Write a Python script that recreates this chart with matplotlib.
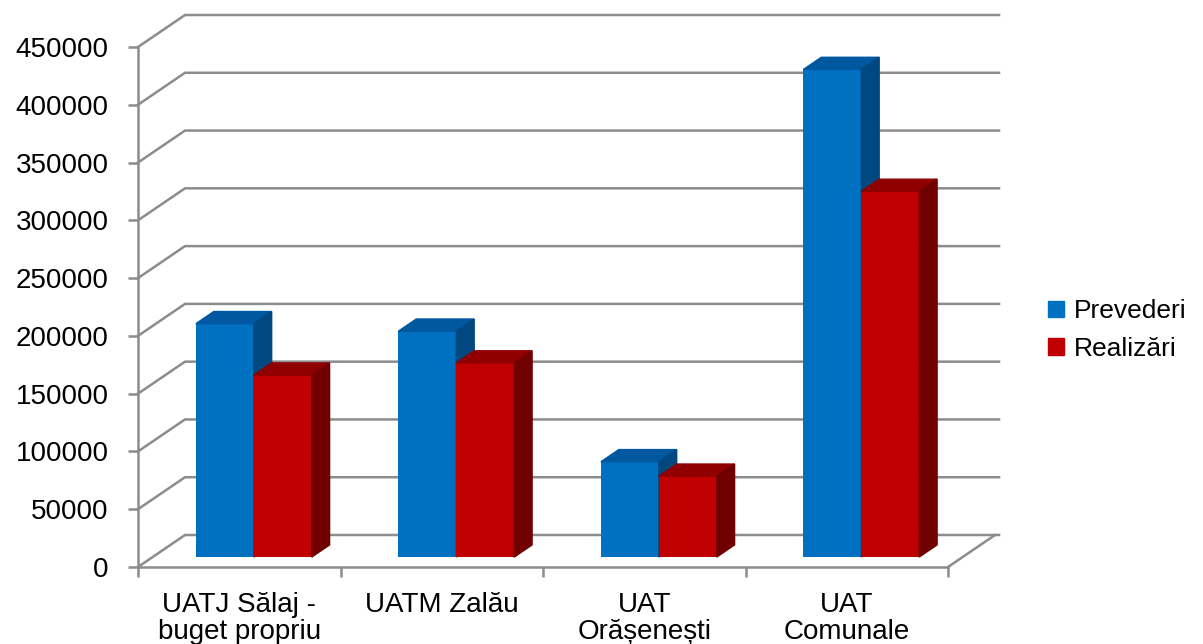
import numpy as np
import matplotlib
matplotlib.use("Agg")
import matplotlib.pyplot as plt
from matplotlib.patches import Polygon, Patch

plt.rcParams['font.family'] = ['Liberation Sans', 'DejaVu Sans']

categories = ["UATJ Sălaj -\nbuget propriu", "UATM Zalău", "UAT\nOrășenești", "UAT\nComunale"]
prevederi = [202000, 195500, 82500, 422000]
realizari = [157500, 168000, 70000, 316500]
yticks = list(range(0, 450001, 50000))

W, H = 1203, 644
fig = plt.figure(figsize=(W / 100, H / 100), dpi=100)
ax = fig.add_axes([138 / W, 77 / H, 810 / W, 520 / H])
ax.set_xlim(-0.5, 3.5)
ax.set_ylim(0, 450000)

# oblique depth of the 3d box (in data units)
DX = 47 / 810 * 4
DY = 32 / 520 * 450000
f0, f1 = 0.31, 0.69  # bars sit in the middle of the floor depth
grid_c = "#8c8c8c"

for v in yticks:
    ax.plot([-0.5, -0.5 + DX, 3.5 + DX + 0.02], [v, v + DY, v + DY],
            color=grid_c, lw=1.8, clip_on=False, zorder=1)
ax.plot([3.5, 3.5 + DX], [0, DY], color=grid_c, lw=1.8, clip_on=False, zorder=1)

bw = 0.286
series = [(prevederi, -bw, "#0070C0", "#0058A0", "#00487F"),
          (realizari, 0.0, "#C00000", "#900000", "#700000")]
x = np.arange(len(categories))
for i in range(len(categories)):
    for vals, off, cf, ct, cs in series:
        xl = x[i] + off + f0 * DX
        xr = xl + bw
        b = f0 * DY
        t = vals[i] + b
        d = f1 - f0
        ax.bar(xl, vals[i], width=bw, bottom=b, align='edge', color=cf,
               clip_on=False, zorder=3)
        ax.add_patch(Polygon([(xl, t), (xr, t), (xr + d * DX, t + d * DY), (xl + d * DX, t + d * DY)],
                             closed=True, color=ct, clip_on=False, zorder=3))
        ax.add_patch(Polygon([(xr, b), (xr, t), (xr + d * DX, t + d * DY), (xr + d * DX, b + d * DY)],
                             closed=True, color=cs, clip_on=False, zorder=3))

for s in ["top", "right"]:
    ax.spines[s].set_visible(False)
for s in ["left", "bottom"]:
    ax.spines[s].set_color(grid_c)
    ax.spines[s].set_linewidth(1.8)

ax.set_yticks(yticks)
ax.set_yticklabels([str(v) for v in yticks], fontsize=20)
ax.tick_params(axis='y', length=7, width=1.8, color=grid_c, pad=14)

ax.set_xticks([-0.5, 0.5, 1.5, 2.5, 3.5])
ax.set_xticklabels([])
ax.tick_params(axis='x', length=7, width=1.8, color=grid_c)
for i, c in enumerate(categories):
    ax.text(x[i], -22000, c, ha='center', va='top', fontsize=20, linespacing=1.05)

handles = [Patch(color="#0070C0"), Patch(color="#C00000")]
fig.legend(handles, ["Prevederi", "Realizări"], loc='center left',
           bbox_to_anchor=(1030 / W, 1 - 330 / H), frameon=False, fontsize=19,
           handlelength=0.6, handleheight=0.6, handletextpad=0.35, labelspacing=0.5,
           borderpad=0.2)

fig.savefig("out.png", dpi=100)
